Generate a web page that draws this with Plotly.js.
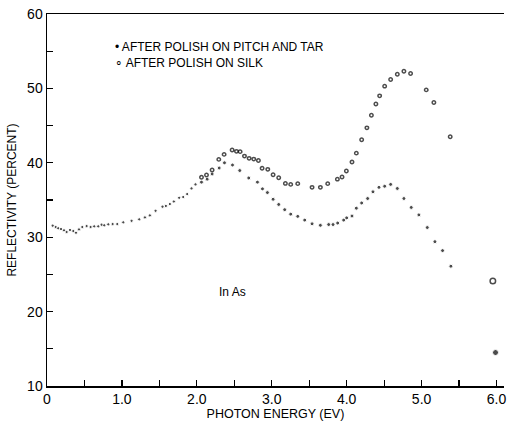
<!DOCTYPE html>
<html>
<head>
<meta charset="utf-8">
<script src="https://cdn.plot.ly/plotly-3.0.1.min.js"></script>
<style>html,body{margin:0;padding:0;background:#fff;}#chart{width:509px;height:424px;}</style>
</head>
<body>
<div id="chart"></div>
<script>
// Photon energy (eV) and reflectivity (%) — after polish on pitch and tar (solid dots)
const pitchEnergy = [0.076,0.116,0.15,0.187,0.227,0.262,0.307,0.351,0.387,0.427,0.471,0.529,0.582,0.63,0.684,0.729,0.764,0.818,0.876,0.938,1.018,1.129,1.231,1.307,1.373,1.449,1.542,1.587,1.64,1.693,1.764,1.818,1.871,1.929,1.982,
  2.062,2.138,2.204,2.298,2.369,2.476,2.573,2.693,2.809,2.876,2.942,3.018,3.093,3.173,3.253,3.347,3.44,3.538,3.649,3.76,3.818,3.88,3.96,4.0,4.071,4.129,4.2,4.28,4.351,4.431,4.507,4.587,4.676,4.764,4.862,4.964,5.076,5.178,5.28,5.391,5.987];
const pitchReflect = [31.55,31.37,31.2,31.1,30.93,30.7,30.97,30.83,30.6,31.05,31.37,31.5,31.37,31.46,31.46,31.68,31.6,31.73,31.77,31.77,32.0,32.2,32.4,32.66,32.93,33.55,34.1,34.2,34.46,34.8,35.3,35.4,35.8,36.56,37.1,
  37.4,37.8,38.5,39.3,40.0,39.7,38.96,37.96,37.4,36.5,36.0,35.1,34.4,33.7,33.1,32.8,32.3,31.8,31.6,31.7,31.7,31.9,32.3,32.6,32.85,33.9,34.6,35.2,36.1,36.7,36.85,37.1,36.55,35.2,34.0,33.0,31.3,29.4,28.2,26.1,14.5];

// After polish on silk (open circles)
const silkEnergy = [2.062,2.129,2.204,2.293,2.364,2.471,2.529,2.578,2.636,2.698,2.76,2.822,2.871,2.947,3.018,3.093,3.182,3.253,3.347,3.538,3.649,3.747,3.876,3.938,3.996,4.071,4.129,4.2,4.27,4.33,4.39,4.44,4.507,4.587,4.676,4.764,4.853,5.062,5.164,5.382,5.951];
const silkReflect = [38.05,38.36,39.03,40.46,41.13,41.72,41.54,41.5,40.9,40.6,40.5,40.3,39.26,39.12,38.4,38.0,37.23,37.1,37.2,36.7,36.7,37.2,37.8,38.1,38.9,40.1,41.3,43.1,44.7,46.4,47.9,49.0,50.3,51.2,51.9,52.3,52.0,49.8,48.1,43.5,24.1];

const xTickVals = [0,1,2,3,4,5,6];
const xTickText = ['0','1.0','2.0','3.0','4.0','5.0','6.0'];
const yTickVals = [10,20,30,40,50,60];
const yTickText = ['10','20','30','40','50','60'];

const legendPitch = '• AFTER POLISH ON PITCH AND TAR';
const legendSilk = '∘ AFTER POLISH ON SILK';
const sampleLabel = 'In As';
const xTitle = 'PHOTON ENERGY (EV)';
const yTitle = 'REFLECTIVITY (PERCENT)';

const FONT = 'Liberation Sans, Arial, sans-serif';

const traces = [
  {
    x: pitchEnergy, y: pitchReflect, type: 'scatter', mode: 'markers', name: 'After polish on pitch and tar',
    marker: {color: '#000', size: pitchEnergy.map((e, i) => i === pitchEnergy.length - 1 ? 6 : (e < 2 ? 3.2 : 3.9)), symbol: 'circle'},
    showlegend: false, hoverinfo: 'x+y'
  },
  {
    x: silkEnergy, y: silkReflect, type: 'scatter', mode: 'markers', name: 'After polish on silk',
    marker: {color: '#000', size: silkEnergy.map((e, i) => i === silkEnergy.length - 1 ? 5.5 : 3.4), symbol: 'circle-open', line: {color: '#000', width: 1.5}},
    showlegend: false, hoverinfo: 'x+y'
  }
];

const layout = {
  width: 509, height: 424,
  margin: {l: 47, r: 4.5, t: 14, b: 38},
  paper_bgcolor: '#fff', plot_bgcolor: '#fff',
  font: {family: FONT, color: '#000', size: 13},
  showlegend: false,
  xaxis: {
    range: [0, 6.1], showgrid: false, zeroline: false,
    showline: true, linecolor: '#000', linewidth: 1.5, mirror: true,
    ticks: 'inside', ticklen: 6, tickwidth: 1.2, tickcolor: '#000',
    tickvals: xTickVals, ticktext: xTickText,
    minor: {dtick: 0.5, tick0: 0, ticks: 'inside', ticklen: 6, tickwidth: 1.2, tickcolor: '#000'},
    tickfont: {size: 14, family: FONT},
    title: {text: xTitle, font: {size: 12.5, family: FONT}, standoff: 2}
  },
  yaxis: {
    range: [10, 60], showgrid: false, zeroline: false,
    showline: true, linecolor: '#000', linewidth: 1.5, mirror: false,
    ticks: 'inside', ticklen: 6, tickwidth: 1.2, tickcolor: '#000',
    tickvals: yTickVals, ticktext: yTickText,
    minor: {dtick: 5, tick0: 10, ticks: 'inside', ticklen: 6, tickwidth: 1.2, tickcolor: '#000'},
    tickfont: {size: 14, family: FONT},
    title: {text: yTitle, font: {size: 12, family: FONT}, standoff: 8}
  },
  annotations: [
    {text: legendPitch, xref: 'paper', yref: 'paper', x: (113 - 47) / 457.5, y: (386 - 47) / 372, xanchor: 'left', yanchor: 'middle', showarrow: false, font: {size: 12, family: FONT}},
    {text: legendSilk, xref: 'paper', yref: 'paper', x: (113 - 47) / 457.5, y: (386 - 63) / 372, xanchor: 'left', yanchor: 'middle', showarrow: false, font: {size: 12, family: FONT}},
    {text: sampleLabel, xref: 'x', yref: 'y', x: 2.47, y: 22.6, xanchor: 'center', yanchor: 'middle', showarrow: false, font: {size: 12, family: FONT}}
  ]
};

Plotly.newPlot('chart', traces, layout, {displayModeBar: false, staticPlot: true});
</script>
</body>
</html>
